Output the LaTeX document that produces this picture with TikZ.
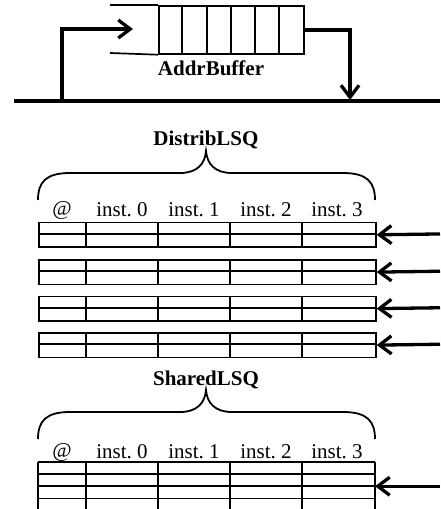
\documentclass[tikz,border=0pt]{standalone}
\usepackage{fontspec}
\setmainfont{Liberation Serif}
\usetikzlibrary{arrows.meta}
\begin{document}
\begin{tikzpicture}[x=1pt,y=-1pt,
  cellline/.style={line width=1.7pt},
  wire/.style={line width=3.3pt},
  barb/.style={-{Straight Barb[length=12pt,width=18pt]}},
  title/.style={font=\fontsize{21}{23}\selectfont\bfseries},
  colhead/.style={font=\fontsize{21}{23}\selectfont},
  bracket/.style={line width=1.8pt},
  rowbox/.style={draw, cellline, minimum width=337pt, minimum height=24.5pt,
    inner sep=0pt, anchor=north west},
]
\useasboundingbox (0,0) rectangle (440,509);
\clip (0,0) rectangle (440,509);

% curly brace over a table, from x=38 to x=375, foot at height #1
\newcommand{\lsqbrace}[1]{%
  \draw[bracket] (38,#1) .. controls (38,#1-18) and (46,#1-27) .. (70,#1-27)
    -- (180,#1-27) .. controls (197,#1-27) and (205,#1-36) .. (206,#1-49)
    .. controls (207,#1-36) and (215,#1-27) .. (232,#1-27)
    -- (343,#1-27) .. controls (367,#1-27) and (375,#1-18) .. (375,#1);}

% address buffer queue
\node[draw, cellline, minimum width=145pt, minimum height=48pt, inner sep=0pt,
  anchor=north west] (buf) at (158,5) {};
\foreach \x in {182,207,231,255,279} \draw[cellline] (\x,5) -- (\x,53);
\draw[cellline] (110,5) -- (buf.north west);
\draw[cellline] (110,53) -- (buf.south west);
\node[title] (bufname) at (211,68) {AddrBuffer};

% bus and buffer connections
\coordinate (busW) at (14,101);
\coordinate (busE) at (440,101);
\draw[wire] (busW) -- (busE);
\coordinate (inTap) at (62,101);
\coordinate (inTip) at (133,29);
\draw[wire,barb] (inTap) |- (inTip);
\coordinate (outTap) at (350,100);
\draw[wire,barb] (buf.east) -| (outTap);

% distributed LSQ
\node[title] (dname) at (206,140) {DistribLSQ};
\lsqbrace{200}
\foreach \x/\t [count=\i] in {62/@,122/inst.~0,194/inst.~1,266/inst.~2,337/inst.~3}
  \node[colhead] (dh\i) at (\x,210) {\t};
\foreach \y [count=\i] in {221.7,259,295.5,332} {
  \node[rowbox] (row\i) at (38,\y) {};
  \draw[cellline] (38,\y+12.25) -- ++(337,0);
  \foreach \x in {86,158,230,302} \draw[cellline] (\x,\y) -- ++(0,24.5);
  \coordinate (src\i) at (440,\y+12.25);
  \draw[wire,barb] (src\i) -- (row\i.east);
}

% shared LSQ
\node[title] (sname) at (206,380) {SharedLSQ};
\lsqbrace{439}
\foreach \x/\t [count=\i] in {62/@,122/inst.~0,194/inst.~1,266/inst.~2,337/inst.~3}
  \node[colhead] (sh\i) at (\x,452) {\t};
\foreach \y in {461.7,474,486.2,498.4} \draw[cellline] (38,\y) -- (375,\y);
\foreach \x in {38,86,158,230,302,375} \draw[cellline] (\x,461.7) -- (\x,512);
\coordinate (sq) at (375,486.2);
\coordinate (ssrc) at (440,486.2);
\draw[wire,barb] (ssrc) -- (sq);
\end{tikzpicture}
\end{document}
